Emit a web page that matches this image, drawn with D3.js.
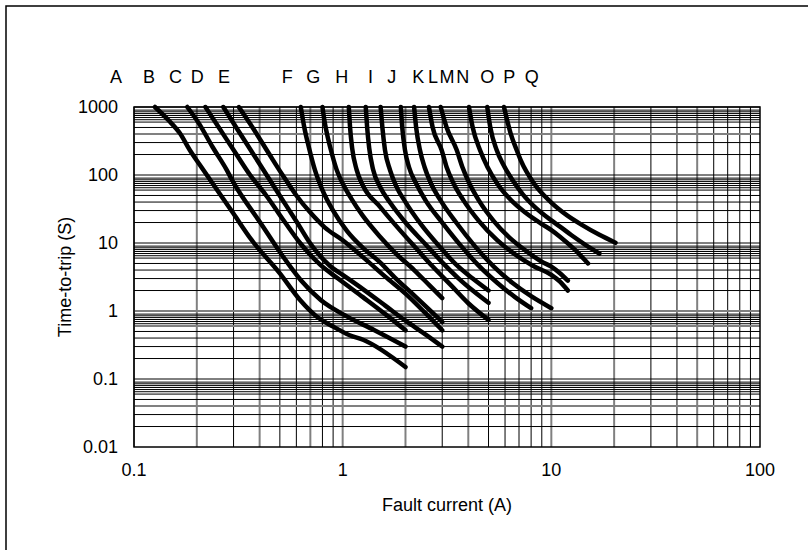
<!DOCTYPE html>
<html><head><meta charset="utf-8">
<script src="https://cdn.jsdelivr.net/npm/d3@7"></script>
<style>body{margin:0;background:#fff}svg{display:block}text{font-family:"Liberation Sans",Arial,sans-serif;fill:#000}</style>
</head><body><svg id="c" width="808" height="550"></svg>
<script>
// ---- data ----
const curveNames = ["A","B","C","D","E","F","G","H","I","J","K","L","M","N","O","P","Q"];
const labelCurrents = [0.082,0.118,0.158,0.201,0.270,0.543,0.723,0.989,1.36,1.72,2.30,2.71,3.16,3.76,4.93,6.28,8.05];
const xTickValues = [0.1,1,10,100];
const xTickLabels = ["0.1","1","10","100"];
const yTickValues = [1000,100,10,1,0.1,0.01];
const yTickLabels = ["1000","100","10","1","0.1","0.01"];
const xMinorMultipliers = [1,2,3,4,5,6,7,8,9];
const xGreyLines = [0.2,0.4,0.7,1,2,4,10,20,50];
const yMinorMultipliers = [1,0.9,0.85,0.8,0.75,0.7,0.65,0.6,0.5,0.4,0.3,0.2];
const yGreyLines = [400,1,0.6,0.04];
// each series: [current (A), time-to-trip (s)]
const seriesA = [[0.126,1000],[0.146,644],[0.166,410],[0.185,233],[0.207,140],[0.299,27.3],[0.366,11.1],[0.5,3.58],[0.625,1.45],[0.75,0.83],[0.9,0.59],[1.08,0.44],[1.26,0.375],[2.0,0.15]];
const seriesB = [[0.180,1000],[0.205,570],[0.238,258],[0.278,119],[0.298,80],[0.405,19.5],[0.505,7.05],[0.629,2.86],[0.785,1.45],[1.052,0.826],[1.413,0.526],[2.0,0.30]];
const seriesC = [[0.220,1000],[0.255,500],[0.31,200],[0.36,100],[0.43,50],[0.53,20],[0.625,10],[0.78,4.8],[0.95,3.0],[1.25,1.6],[1.6,0.9],[2.0,0.52]];
const seriesD = [[0.268,1000],[0.309,500],[0.374,200],[0.432,100],[0.499,50],[0.605,20],[0.697,10],[0.87,4.6],[1.0,3.4],[1.25,2.1],[1.6,1.2],[2.0,0.72],[2.5,0.45],[3,0.3]];
const seriesE = [[0.318,1000],[0.37,500],[0.446,200],[0.515,100],[0.6,50],[0.7,28],[0.82,17],[1.0,11],[1.3,5.6],[1.6,3.2],[2.0,1.8],[2.5,0.92],[3,0.52]];
const seriesF = [[0.63,1000],[0.655,500],[0.69,250],[0.736,119],[0.8,60],[0.9,30],[1.05,15],[1.25,8.5],[1.51,5.2],[1.8,3.0],[2.2,1.7],[2.6,1.05],[3,0.69]];
const seriesG = [[0.80,1000],[0.82,600],[0.85,350],[0.89,200],[0.936,119],[1.0,75],[1.1,45],[1.25,25],[1.51,12.4],[1.8,7],[2.2,4],[2.6,2.4],[3,1.55]];
const seriesH = [[1.07,1000],[1.085,500],[1.11,250],[1.167,119],[1.25,70],[1.51,34],[1.8,18],[2.2,9],[2.7,4.5],[3.3,2.4],[4.0,1.3],[5,0.74]];
const seriesI = [[1.29,1000],[1.31,500],[1.34,250],[1.40,119],[1.51,67],[1.7,38],[2.0,20],[2.5,9.5],[3.0,5.2],[3.6,3.0],[4.2,2.0],[5,1.32]];
const seriesJ = [[1.52,1000],[1.55,500],[1.595,233],[1.685,119],[1.8,70],[2.0,40],[2.4,18],[2.9,9],[3.5,4.8],[4.2,3.0],[5,2.0]];
const seriesK = [[1.90,1000],[1.93,500],[1.989,233],[2.08,130],[2.25,75],[2.5,42],[3.0,20],[3.7,9],[4.5,4.6],[5.5,2.6],[6.7,1.6],[8,1.1]];
const seriesL = [[2.20,1000],[2.25,500],[2.346,233],[2.47,130],[2.65,75],[2.95,42],[3.5,20],[4.3,9],[5.3,4.5],[6.5,2.6],[8,1.65],[10,1.1]];
const seriesM = [[2.59,1000],[2.7,500],[2.98,233],[3.15,130],[3.4,75],[3.8,42],[4.5,21],[5.5,11],[6.7,6.8],[8.2,4.6],[10,3.4],[11,2.7],[12,2.0]];
const seriesN = [[2.95,1000],[3.15,500],[3.52,233],[3.75,130],[4.05,75],[4.5,42],[5.3,21],[6.3,12],[7.5,7.8],[9,5.3],[10,4.5],[11,3.6],[12,2.8]];
const seriesO = [[4.03,1000],[4.2,500],[4.55,233],[4.95,130],[5.5,75],[6.3,45],[7.5,28],[9,19],[10,15.5],[11,12.4],[13,7.9],[15,5]];
const seriesP = [[4.93,1000],[5.1,500],[5.47,233],[5.9,140],[6.5,85],[7.3,52],[8.5,32],[10,21.5],[11,17.4],[12.5,13],[14.5,9.5],[17,7]];
const seriesQ = [[5.93,1000],[6.38,410],[6.82,233],[7.13,166],[8.26,75],[9.94,40],[11.9,25.5],[14,18.5],[17,13.2],[20.3,10.1]];
const allSeries = [seriesA,seriesB,seriesC,seriesD,seriesE,seriesF,seriesG,seriesH,seriesI,seriesJ,seriesK,seriesL,seriesM,seriesN,seriesO,seriesP,seriesQ];

// ---- layout ----
const L = 134, R = 760, T = 107, B = 447;
const svg = d3.select("#c");
const x = d3.scaleLog().domain([0.1,100]).range([L,R]);
const y = d3.scaleLog().domain([0.01,1000]).range([B,T]);

svg.append("rect").attr("x",6).attr("y",6).attr("width",900).attr("height",700)
  .attr("fill","none").attr("stroke","#000").attr("stroke-width",1.5);

// grid
const g = svg.append("g");
const xs = [];
[0.1,1,10].forEach(d => xMinorMultipliers.forEach(m => xs.push(+(d*m).toPrecision(3))));
xs.forEach(v => {
  const grey = xGreyLines.some(q => Math.abs(q - v) < 1e-9);
  g.append("line").attr("x1",x(v)).attr("x2",x(v)).attr("y1",T).attr("y2",B)
   .attr("stroke",grey?"#808080":"#000").attr("stroke-width",grey?2:1);
});
const ys = [];
[1000,100,10,1,0.1].forEach(d => yMinorMultipliers.forEach(m => ys.push(+(d*m).toPrecision(3))));
ys.forEach(v => {
  const grey = yGreyLines.some(q => Math.abs(q - v) < 1e-9);
  g.append("line").attr("x1",L).attr("x2",R).attr("y1",y(v)).attr("y2",y(v))
   .attr("stroke",grey?"#808080":"#000").attr("stroke-width",grey?2:1);
});
svg.append("rect").attr("x",L).attr("y",T).attr("width",R-L).attr("height",B-T)
  .attr("fill","none").attr("stroke","#000").attr("stroke-width",1.5);

// axes labels
svg.append("g").selectAll("text").data(xTickValues).join("text")
  .attr("x",d=>x(d)).attr("y",476).attr("text-anchor","middle").attr("font-size",18)
  .text((d,i)=>xTickLabels[i]);
svg.append("g").selectAll("text").data(yTickValues).join("text")
  .attr("x",118).attr("y",d=>y(d)+6).attr("text-anchor","end").attr("font-size",18)
  .text((d,i)=>yTickLabels[i]);
svg.append("text").attr("x",(L+R)/2).attr("y",511).attr("text-anchor","middle")
  .attr("font-size",18).text("Fault current (A)");
svg.append("text").attr("transform",`translate(71,${(T+B)/2}) rotate(-90)`)
  .attr("text-anchor","middle").attr("font-size",18).text("Time-to-trip (S)");

// curve letters
svg.append("g").selectAll("text").data(curveNames).join("text")
  .attr("x",(d,i)=>x(labelCurrents[i])).attr("y",83).attr("text-anchor","middle")
  .attr("font-size",18).text(d=>d);

// curves
const line = d3.line().x(d=>x(d[0])).y(d=>y(d[1])).curve(d3.curveMonotoneX);
svg.append("g").selectAll("path").data(allSeries).join("path")
  .attr("d",line).attr("fill","none").attr("stroke","#000").attr("stroke-width",4.5)
  .attr("stroke-linecap","round").attr("stroke-linejoin","round");
</script></body></html>
